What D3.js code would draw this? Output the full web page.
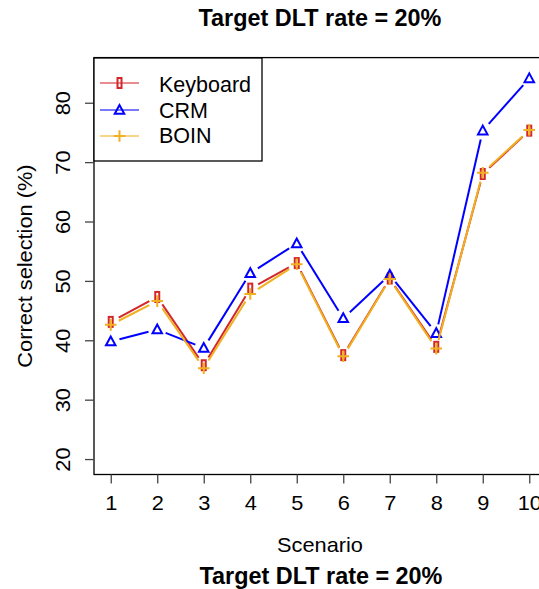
<!DOCTYPE html>
<html>
<head>
<meta charset="utf-8">
<script src="https://cdn.jsdelivr.net/npm/d3@7"></script>
<style>
  html, body { margin: 0; padding: 0; background: #fff; }
  svg { display: block; }
  text { font-family: "Liberation Sans", Arial, Helvetica, sans-serif; fill: #000; }
</style>
</head>
<body>
<svg id="chart" width="539" height="589"></svg>
<script>
// Scenario numbers and correct-selection percentages per design
const scenarios = [1, 2, 3, 4, 5, 6, 7, 8, 9, 10];
const keyboard  = [43.1, 47.3, 35.8, 48.7, 53.0, 37.5, 50.4, 38.9, 68.0, 75.3];
const crm       = [39.8, 41.8, 38.7, 51.3, 56.3, 43.7, 51.0, 41.2, 75.3, 84.1];
const boin      = [42.6, 46.6, 35.3, 47.8, 52.8, 37.3, 50.3, 38.6, 68.2, 75.4];
const yTicks    = [20, 30, 40, 50, 60, 70, 80];
const seriesNames = ["Keyboard", "CRM", "BOIN"];

const colors = { Keyboard: "#d2262b", CRM: "#0000ff", BOIN: "#f0b020" };
const shapes = { Keyboard: "rect", CRM: "triangle", BOIN: "plus" };

const FONT = 19.8;      // axis text size
const STRETCH = 1.1;    // horizontal widening of axis text

const svg = d3.select("#chart");

// plotting region (x range runs past the right edge of the page)
const plotLeft = 94, plotRight = 546, plotTop = 57.6, plotBottom = 474.5;
const x = d3.scaleLinear().domain([0.64, 10.36]).range([plotLeft, plotRight]);
const y = d3.scaleLinear().domain([17.4, 87.6]).range([plotBottom, plotTop]);

// markers
function drawMarker(g, shape, cx, cy, color) {
  if (shape === "rect") {
    g.append("rect").attr("x", cx - 2).attr("y", cy - 5)
      .attr("width", 4).attr("height", 10)
      .attr("fill", "none").attr("stroke", color).attr("stroke-width", 2);
  } else if (shape === "triangle") {
    const r = 5;
    const pts = [[cx, cy - r], [cx - r * 0.95, cy + r * 0.75], [cx + r * 0.95, cy + r * 0.75]];
    g.append("path").attr("d", "M" + pts.map(p => p.join(",")).join("L") + "Z")
      .attr("fill", "none").attr("stroke", color).attr("stroke-width", 2)
      .attr("stroke-linejoin", "miter");
  } else {
    const r = 5.8;
    g.append("path").attr("d", `M${cx - r},${cy}H${cx + r}M${cx},${cy - r}V${cy + r}`)
      .attr("fill", "none").attr("stroke", color).attr("stroke-width", 2);
  }
}

// lines with gaps around each point (points-and-lines style)
const gap = 9;
function drawSeries(name, values) {
  const g = svg.append("g");
  const color = colors[name];
  const pts = scenarios.map((s, i) => [x(s), y(values[i])]);
  for (let i = 0; i < pts.length - 1; i++) {
    const [x0, y0] = pts[i], [x1, y1] = pts[i + 1];
    const dx = x1 - x0, dy = y1 - y0, len = Math.hypot(dx, dy);
    if (len <= 2 * gap) continue;
    const ux = dx / len, uy = dy / len;
    g.append("line")
      .attr("x1", x0 + ux * gap).attr("y1", y0 + uy * gap)
      .attr("x2", x1 - ux * gap).attr("y2", y1 - uy * gap)
      .attr("stroke", color).attr("stroke-width", 2);
  }
  pts.forEach(([px, py]) => drawMarker(g, shapes[name], px, py, color));
}

drawSeries("Keyboard", keyboard);
drawSeries("CRM", crm);
drawSeries("BOIN", boin);

// plot box
svg.append("rect")
  .attr("x", plotLeft).attr("y", plotTop)
  .attr("width", plotRight - plotLeft).attr("height", plotBottom - plotTop)
  .attr("fill", "none").attr("stroke", "#000").attr("stroke-width", 1.3);

// x axis
const xAxis = svg.append("g").attr("transform", `translate(0,${plotBottom})`)
  .call(d3.axisBottom(x).tickValues(scenarios).tickFormat(d3.format("d")).tickSize(9));
xAxis.select(".domain").remove();
xAxis.selectAll(".tick line").attr("stroke", "#444").attr("stroke-width", 1.3);
xAxis.selectAll(".tick text")
  .attr("y", 35.2).attr("dy", null)
  .attr("transform", `scale(${STRETCH},1)`)
  .style("font-size", FONT + "px")
  .style("font-family", "'Liberation Sans', Arial, sans-serif");

// y axis with labels parallel to the axis
const yAxis = svg.append("g").attr("transform", `translate(${plotLeft},0)`)
  .call(d3.axisLeft(y).tickValues(yTicks).tickSize(9).tickFormat(d3.format("d")));
yAxis.select(".domain").remove();
yAxis.selectAll(".tick line").attr("stroke", "#444").attr("stroke-width", 1.3);
yAxis.selectAll(".tick text")
  .attr("x", null).attr("dy", null).attr("y", 0)
  .attr("text-anchor", "middle")
  .attr("transform", `translate(-24,0) rotate(-90) scale(${STRETCH},1)`)
  .style("font-size", FONT + "px")
  .style("font-family", "'Liberation Sans', Arial, sans-serif");

// axis titles
svg.append("text")
  .attr("transform", `translate(320,552.3) scale(${STRETCH},1)`)
  .attr("text-anchor", "middle").style("font-size", FONT + "px").text("Scenario");
svg.append("text")
  .attr("transform", `translate(31.5,${(plotTop + plotBottom) / 2}) rotate(-90) scale(${STRETCH},1)`)
  .attr("text-anchor", "middle").style("font-size", FONT + "px").text("Correct selection (%)");

// titles
svg.append("text").attr("x", 320).attr("y", 25.5)
  .attr("text-anchor", "middle").style("font-size", "23.4px").style("font-weight", "bold")
  .text("Target DLT rate = 20%");
svg.append("text").attr("x", 321).attr("y", 583.8)
  .attr("text-anchor", "middle").style("font-size", "23.4px").style("font-weight", "bold")
  .text("Target DLT rate = 20%");

// legend
const legend = svg.append("g");
legend.append("rect").attr("x", plotLeft).attr("y", 58).attr("width", 168).attr("height", 103)
  .attr("fill", "#fff").attr("stroke", "#000").attr("stroke-width", 1.3);
const legendY = [83, 110, 136];
const legendBase = [91.7, 117.7, 143.3];
seriesNames.forEach((name, i) => {
  const ly = legendY[i];
  legend.append("line").attr("x1", 100).attr("x2", 139).attr("y1", ly).attr("y2", ly)
    .attr("stroke", colors[name]).attr("stroke-width", 1.6).attr("stroke-opacity", 0.7);
  drawMarker(legend, shapes[name], 119.5, ly, colors[name]);
  legend.append("text").attr("x", 159).attr("y", legendBase[i])
    .style("font-size", "21.5px").text(name);
});
</script>
</body>
</html>
